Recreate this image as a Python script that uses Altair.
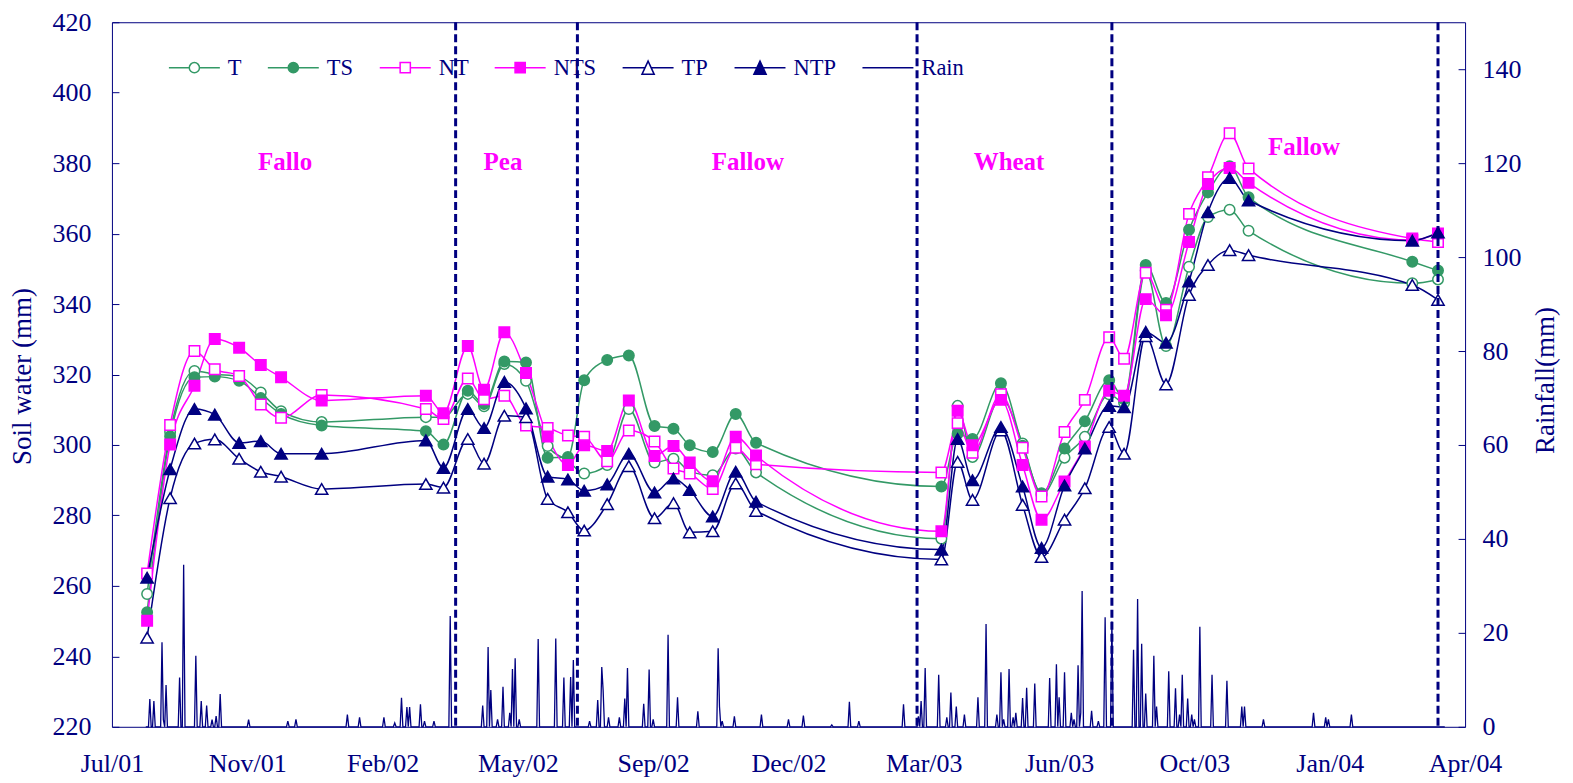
import json
import altair as alt
import numpy as np
import pandas as pd

# ---------------- data ----------------
START = "2001-07-28"  # first x-axis tick (Jul/01)

x_tick_dates = ["2001-07-28", "2001-11-05", "2002-02-13", "2002-05-24", "2002-09-01",
                "2002-12-10", "2003-03-20", "2003-06-28", "2003-10-06", "2004-01-14",
                "2004-04-23"]
x_tick_labels = ["Jul/01", "Nov/01", "Feb/02", "May/02", "Sep/02", "Dec/02",
                 "Mar/03", "Jun/03", "Oct/03", "Jan/04", "Apr/04"]

sample_dates = [
    "2001-08-23", "2001-09-09", "2001-09-27", "2001-10-12", "2001-10-30", "2001-11-15",
    "2001-11-30", "2001-12-30", "2002-03-17", "2002-03-30", "2002-04-17", "2002-04-29",
    "2002-05-14", "2002-05-30", "2002-06-15", "2002-06-30", "2002-07-12", "2002-07-29",
    "2002-08-14", "2002-09-02", "2002-09-16", "2002-09-28", "2002-10-15", "2002-11-01",
    "2002-11-16", "2003-04-02", "2003-04-14", "2003-04-25", "2003-05-16", "2003-06-01",
    "2003-06-15", "2003-07-02", "2003-07-17", "2003-08-04", "2003-08-15", "2003-08-31",
    "2003-09-15", "2003-10-02", "2003-10-16", "2003-11-01", "2003-11-15", "2004-03-15",
    "2004-04-03",
]
T = [257.7, 303.7, 321.0, 320.1, 319.4, 314.9, 309.6, 306.5, 307.9, 307.9, 314.5, 311.0,
     323.0, 318.2, 299.7, 295.5, 291.9, 294.3, 310.2, 295.0, 296.1, 292.5, 291.4, 299.0,
     292.2, 273.4, 311.1, 296.6, 313.5, 300.4, 285.8, 296.4, 302.3, 314.4, 312.0, 349.5,
     328.1, 350.6, 364.7, 366.8, 360.8, 345.9, 347.0]
TS = [252.5, 302.5, 319.2, 319.4, 318.2, 313.3, 308.8, 305.5, 303.9, 300.1, 315.4, 311.6,
      323.7, 323.4, 296.4, 296.6, 318.4, 324.1, 325.4, 305.4, 304.6, 299.9, 298.0, 308.8,
      300.6, 288.2, 303.2, 301.7, 317.5, 299.8, 286.3, 299.0, 306.7, 318.4, 313.0, 351.1,
      340.3, 361.1, 371.7, 379.1, 370.3, 352.0, 349.5]
NT = [263.5, 305.7, 326.7, 321.5, 319.6, 311.5, 307.7, 314.2, 310.2, 307.4, 318.9, 313.0,
      314.0, 305.5, 304.8, 302.7, 302.3, 295.4, 304.1, 301.0, 293.3, 291.9, 287.5, 299.2,
      294.5, 292.2, 306.2, 297.8, 314.4, 299.2, 285.4, 303.7, 312.8, 330.6, 324.5, 348.9,
      338.4, 365.6, 376.0, 388.5, 378.5, 358.6, 357.6]
NTS = [250.1, 300.1, 316.8, 330.1, 327.6, 322.7, 319.2, 312.6, 314.0, 309.0, 328.1, 315.7,
       332.0, 320.4, 302.4, 294.3, 299.9, 298.3, 312.6, 296.9, 299.7, 295.0, 289.7, 302.3,
       297.0, 275.5, 309.7, 299.9, 312.8, 294.3, 278.8, 289.6, 299.6, 315.4, 314.0, 341.4,
       336.8, 357.6, 374.1, 378.6, 374.4, 358.2, 360.0]
TP = [245.3, 284.9, 300.4, 301.6, 296.1, 292.4, 291.0, 287.5, 288.9, 287.9, 301.7, 294.7,
      308.3, 307.9, 284.7, 280.9, 275.7, 283.2, 294.0, 279.2, 283.5, 275.2, 275.5, 289.1,
      281.3, 267.5, 295.2, 284.4, 304.1, 283.0, 268.2, 278.8, 287.7, 305.1, 297.5, 330.9,
      317.2, 342.6, 351.1, 355.3, 353.9, 345.4, 341.2]
NTP = [262.3, 293.1, 310.2, 308.6, 300.6, 301.1, 297.5, 297.5, 301.3, 293.5, 310.2, 304.8,
       317.9, 310.4, 291.0, 290.2, 287.0, 288.8, 297.5, 286.5, 290.5, 287.2, 279.7, 292.4,
       283.9, 270.3, 301.7, 290.0, 305.1, 288.2, 270.8, 288.5, 299.0, 311.1, 310.7, 332.1,
       329.0, 346.4, 366.1, 375.8, 369.4, 358.0, 360.3]

series_names = ["T", "TS", "NT", "NTS", "TP", "NTP", "Rain"]
series_stroke = ["#339966", "#339966", "#FF00FF", "#FF00FF", "#000080", "#000080", "#000080"]
series_fill = ["#FFFFFF", "#339966", "#FFFFFF", "#FF00FF", "#FFFFFF", "#000080", "#000080"]
series_marker = ["circle", "circle", "square", "square", "triangle-up", "triangle-up", "none"]

# daily rainfall events: days after 28 Jul 2001, and mm
rain_day = [28, 31, 37, 38, 40, 50, 53, 62, 66, 70, 74, 77, 80, 101, 130, 136, 174, 183,
            201, 209, 214, 218, 220, 228, 231, 238, 250, 274, 278, 280, 285, 289, 294, 296,
            298, 301, 315, 328, 334, 339, 341, 353, 359, 362, 363, 367, 375, 379, 381, 393,
            397, 400, 411, 418, 433, 448, 449, 451, 460, 480, 500, 511, 532, 545, 552, 585,
            596, 598, 601, 611, 617, 620, 624, 630, 640, 646, 654, 657, 659, 663, 666, 668,
            673, 676, 682, 693, 698, 700, 704, 709, 711, 714, 716, 717, 724, 729, 734, 739,
            755, 758, 761, 764, 770, 772, 781, 786, 789, 791, 795, 798, 800, 804, 813, 824,
            835, 837, 851, 888, 897, 899, 916]
rain_mm = [5.9, 5.5, 18.0, 1.5, 8.9, 10.5, 34.5, 15.1, 5.5, 4.5, 1.5, 2.3, 7.0, 1.5, 1.2,
           1.6, 2.6, 2.0, 2.0, 0.8, 6.2, 4.2, 4.2, 4.8, 1.2, 1.2, 23.6, 4.5, 17.0, 7.8, 1.6,
           8.5, 3.0, 12.3, 14.6, 1.6, 18.7, 18.8, 10.5, 10.6, 14.2, 1.2, 5.7, 12.7, 7.8, 2.0,
           2.0, 6.0, 12.5, 4.9, 12.2, 1.6, 19.6, 6.3, 3.3, 16.7, 4.3, 1.2, 2.2, 2.6, 1.6, 2.4,
           0.4, 5.3, 1.2, 4.8, 2.2, 5.5, 12.5, 11.1, 2.0, 7.3, 4.3, 2.6, 6.3, 21.9, 2.6, 11.6,
           1.6, 12.3, 2.0, 3.0, 6.1, 8.3, 9.2, 10.4, 13.3, 6.3, 11.6, 3.0, 1.6, 13.1, 3.0, 28.9,
           3.4, 1.2, 23.3, 22.4, 16.4, 27.2, 17.7, 7.1, 15.1, 4.3, 11.8, 8.2, 2.6, 11.1, 6.0,
           2.6, 1.6, 21.3, 11.1, 9.8, 4.3, 4.3, 1.6, 3.0, 2.0, 1.6, 2.6]
rain_record = [25, 985]  # first and last day of the daily rain record

phase_bounds = ["2002-04-08", "2002-07-07", "2003-03-15", "2003-08-06", "2004-04-03"]
phase_labels = ["Fallo", "Pea", "Fallow", "Wheat", "Fallow"]
phase_label_dates = ["2001-12-03", "2002-05-13", "2002-11-10", "2003-05-22", "2003-12-26"]
phase_label_y = [380.3, 380.3, 380.3, 380.3, 384.5]

sw_ticks = list(range(220, 421, 20))
rain_ticks = list(range(0, 141, 20))

# ---------------- tables ----------------
start = pd.Timestamp(START)


def day_of(d):
    return int((pd.Timestamp(d) - start).days)


values = {"T": T, "TS": TS, "NT": NT, "NTS": NTS, "TP": TP, "NTP": NTP}
rows = []
for name, vals in values.items():
    for d, v in zip(sample_dates, vals):
        rows.append({"series": name, "day": day_of(d), "water": v})
sw = pd.DataFrame(rows)

rain = pd.DataFrame({"day": np.arange(rain_record[0], rain_record[1] + 1)})
rain["rain"] = rain["day"].map(dict(zip(rain_day, rain_mm))).fillna(0.0)
rain["series"] = "Rain"

phase_df = pd.DataFrame({"day": [day_of(d) for d in phase_bounds]})
label_df = pd.DataFrame({"day": [day_of(d) for d in phase_label_dates],
                         "water": phase_label_y, "label": phase_labels})
legend_df = pd.DataFrame({"series": series_names})

x_tick_days = [day_of(d) for d in x_tick_dates]

# ---------------- styling ----------------
NAVY = "#000080"
FONT = "Liberation Serif"

stroke_scale = alt.Scale(domain=series_names, range=series_stroke)
fill_scale = alt.Scale(domain=series_names, range=series_fill)
legend_paths = {
    "circle": "M-1,0H-0.2A0.2,0.2 0 1,1 0.2,0A0.2,0.2 0 1,1 -0.2,0M0.2,0H1",
    "square": "M-1,0H-0.2M-0.2,-0.2H0.2V0.2H-0.2ZM0.2,0H1",
    "triangle-up": "M-1,0H-0.12M0,-0.26L0.24,0.26H-0.24ZM0.12,0H1",
    "none": "M-1,0H1",
}
shape_scale = alt.Scale(domain=series_names, range=[legend_paths[m] for m in series_marker])

x_domain = [x_tick_days[0], x_tick_days[-1]]
label_expr = f"{json.dumps(x_tick_labels)}[indexof({json.dumps(x_tick_days)}, datum.value)]"

x_axis = alt.Axis(orient="bottom", values=x_tick_days, labelExpr=label_expr, title=None,
                  ticks=False, domain=False, grid=False, labelFlush=False, labelOverlap=False,
                  labelPadding=24, labelFontSize=26, labelColor=NAVY, labelFont=FONT)
X = alt.X("day:Q", scale=alt.Scale(domain=x_domain, nice=False, zero=False), axis=x_axis)

y_sw_scale = alt.Scale(domain=[sw_ticks[0], sw_ticks[-1]], nice=False, zero=False)
y_axis = alt.Axis(orient="left", values=sw_ticks, title="Soil water (mm)", domain=False,
                  grid=False, ticks=True, tickSize=7, offset=-7, tickColor=NAVY,
                  labelPadding=21, labelFontSize=26, labelColor=NAVY, labelFont=FONT,
                  titleFontSize=27, titleFontWeight="normal", titleColor=NAVY,
                  titleFont=FONT, titleAngle=270, titleAlign="center",
                  titleBaseline="alphabetic", titleX=-88, titleY=354)
Y = alt.Y("water:Q", scale=y_sw_scale, axis=y_axis)

r_axis = alt.Axis(orient="right", values=rain_ticks, title="Rainfall(mm)", domain=False,
                  grid=False, ticks=True, tickSize=7, offset=-7, tickColor=NAVY,
                  labelPadding=17, labelFontSize=26, labelColor=NAVY, labelFont=FONT,
                  titleFontSize=27, titleFontWeight="normal", titleColor=NAVY,
                  titleFont=FONT, titleAngle=270, titleAlign="center",
                  titleBaseline="alphabetic", titleX=95, titleY=358)
YR = alt.Y("rain:Q", scale=alt.Scale(domain=[0, 150], nice=False), axis=r_axis)

stroke_enc = alt.Stroke("series:N", scale=stroke_scale, legend=None)
fill_enc = alt.Fill("series:N", scale=fill_scale, legend=None)

# ---------------- layers ----------------
rain_layer = alt.Chart(rain).mark_line(strokeWidth=1.3).encode(
    x=X, y=YR, stroke=stroke_enc)

sw_lines = alt.Chart(sw).mark_line(interpolate="monotone", strokeWidth=1.5).encode(
    x=X, y=Y, stroke=stroke_enc, order="day:Q")

marker_size = {"circle": 110, "square": 110, "triangle-up": 150}
point_layers = []
for m in ["circle", "square", "triangle-up"]:
    names = [n for n, k in zip(series_names, series_marker) if k == m]
    point_layers.append(
        alt.Chart(sw).transform_filter(alt.FieldOneOfPredicate(field="series", oneOf=names))
        .mark_point(shape=m, size=marker_size[m], filled=True, opacity=1, strokeWidth=1.5)
        .encode(x=X, y=Y, stroke=stroke_enc, fill=fill_enc)
    )

labels = alt.Chart(label_df).mark_text(font=FONT, fontWeight="bold", fontSize=25,
                                       color="#FF00FF", align="center", baseline="middle").encode(
    x=X, y=Y, text="label:N")

rules = alt.Chart(phase_df).mark_rule(strokeDash=[8, 4], strokeWidth=3, color=NAVY).encode(x=X)

legend_def = alt.Legend(orient="none", legendX=56, legendY=19, direction="horizontal",
                        title=None, symbolSize=2600, symbolStrokeWidth=1.5, symbolOpacity=1,
                        labelFont=FONT, labelFontSize=22.5, labelColor=NAVY, labelOffset=7,
                        columnPadding=23, padding=0, labelLimit=200)
legend_layer = alt.Chart(legend_df).transform_filter("false").mark_point(
    filled=True, opacity=1, size=2600, strokeWidth=1.5).encode(
    stroke=alt.Stroke("series:N", scale=stroke_scale, legend=legend_def),
    fill=alt.Fill("series:N", scale=fill_scale, legend=legend_def),
    shape=alt.Shape("series:N", scale=shape_scale, legend=legend_def),
)

indep_legends = dict(stroke="independent", fill="independent", shape="independent")

sw_group = alt.layer(sw_lines, *point_layers, labels, legend_layer, rules).resolve_legend(
    **indep_legends)

chart = (
    alt.layer(rain_layer, sw_group)
    .resolve_scale(y="independent")
    .resolve_legend(**indep_legends)
    .properties(width=1354, height=705,
                padding={"left": 104, "top": 14, "right": 100, "bottom": 50},
                autosize=alt.AutoSizeParams(type="none"))
    .configure(font=FONT)
    .configure_view(stroke=NAVY, strokeWidth=1)
)

chart.save("out.html", embed_options={"renderer": "svg", "actions": False})
